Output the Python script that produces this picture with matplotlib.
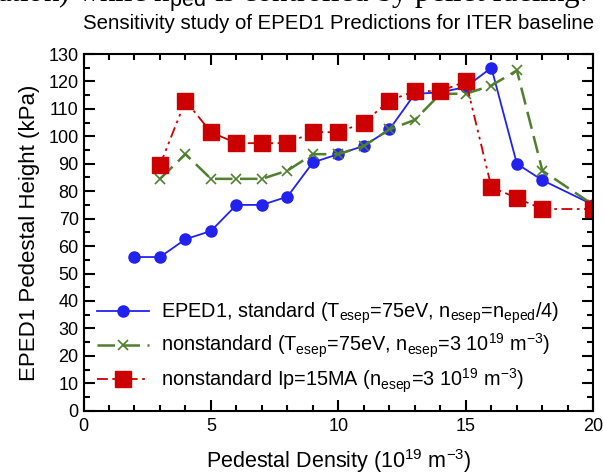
import matplotlib
matplotlib.use('Agg')
import matplotlib.pyplot as plt
from matplotlib.ticker import MultipleLocator

plt.rcParams['font.family'] = ['Liberation Sans', 'DejaVu Sans']
plt.rcParams['mathtext.fontset'] = 'custom'
plt.rcParams['mathtext.rm'] = 'Liberation Sans'
plt.rcParams['mathtext.it'] = 'Liberation Sans'

# EPED1 standard
x_std = [2, 3, 4, 5, 6, 7, 8, 9, 10, 11, 12, 13, 14, 15, 16, 17, 18, 20]
p_std = [56, 56, 62.5, 65.5, 75, 75, 78, 90.5, 93.5, 96.5, 102.5, 115.5, 116, 118, 125, 90, 84, 75]

# nonstandard, n_esep fixed
x_ns = [3, 4, 5, 6, 7, 8, 9, 10, 11, 12, 13, 14, 15, 16, 17, 18, 20]
p_ns = [84.5, 93.5, 84.5, 84.5, 84.5, 87.5, 93.5, 93.5, 96.5, 102.5, 106, 115.5, 115.5, 118.5, 124, 87.5, 75]

# nonstandard Ip=15MA
x_ip = [3, 4, 5, 6, 7, 8, 9, 10, 11, 12, 13, 14, 15, 16, 17, 18, 20]
p_ip = [89.5, 113, 101.5, 97.5, 97.5, 97.5, 101.5, 101.5, 105, 113, 116.5, 116.5, 120, 81.5, 77.5, 73.5, 73.5]

labels = [
    r'EPED1, standard (T$_{\mathrm{esep}}$=75eV, n$_{\mathrm{esep}}$=n$_{\mathrm{eped}}$/4)',
    r'nonstandard (T$_{\mathrm{esep}}$=75eV, n$_{\mathrm{esep}}$=3 10$^{19}$ m$^{-3}$)',
    r'nonstandard Ip=15MA (n$_{\mathrm{esep}}$=3 10$^{19}$ m$^{-3}$)',
]

fig = plt.figure(figsize=(6.03, 4.75), dpi=100)
ax = fig.add_axes([0.1385, 0.1354, 0.8455, 0.7509])

ax.plot(x_std, p_std, '-', color='#2222ee', lw=1.3, marker='o', ms=8,
        label=labels[0])
ax.plot(x_ns, p_ns, color='#4f7f2f', lw=1.8, dashes=(7, 3), marker='x', ms=7,
        mew=1.2, label=labels[1])
ax.plot(x_ip, p_ip, color='#cc0000', lw=1.3, dashes=(6, 2.5, 1.5, 2.5, 1.5, 2.5),
        marker='s', ms=11, label=labels[2])

ax.set_xlim(0, 20)
ax.set_ylim(0, 130)
ax.xaxis.set_major_locator(MultipleLocator(5))
ax.xaxis.set_minor_locator(MultipleLocator(1))
ax.yaxis.set_major_locator(MultipleLocator(10))
ax.yaxis.set_minor_locator(MultipleLocator(5))
ax.tick_params(which='both', direction='in', top=True, right=True, labelsize=13, width=1.5)
ax.tick_params(axis='x', pad=5)
ax.tick_params(which='major', length=8)
ax.tick_params(which='minor', length=4)
for s in ax.spines.values():
    s.set_linewidth(1.5)

ax.set_xlabel(r'Pedestal Density (10$^{19}$ m$^{-3}$)', fontsize=15.5, labelpad=9)
ax.set_ylabel('EPED1 Pedestal Height (kPa)', fontsize=16, labelpad=6)
ax.set_title('Sensitivity study of EPED1 Predictions for ITER baseline',
             fontsize=14.7, pad=18)

ax.legend(loc='lower left', bbox_to_anchor=(0.0, 0.006), frameon=False,
          fontsize=14.3, handlelength=2.6, labelspacing=0.3, borderaxespad=0.3,
          handletextpad=0.6)

# clipped caption text from the surrounding page
fig.text(-0.005, 1 - 2 / 475, r'ation) while n$_{\mathrm{ped}}$ is controlled by pellet fueling.',
         family='Liberation Serif', fontsize=22.3, va='baseline', ha='left')

fig.savefig('out.png', dpi=100)
